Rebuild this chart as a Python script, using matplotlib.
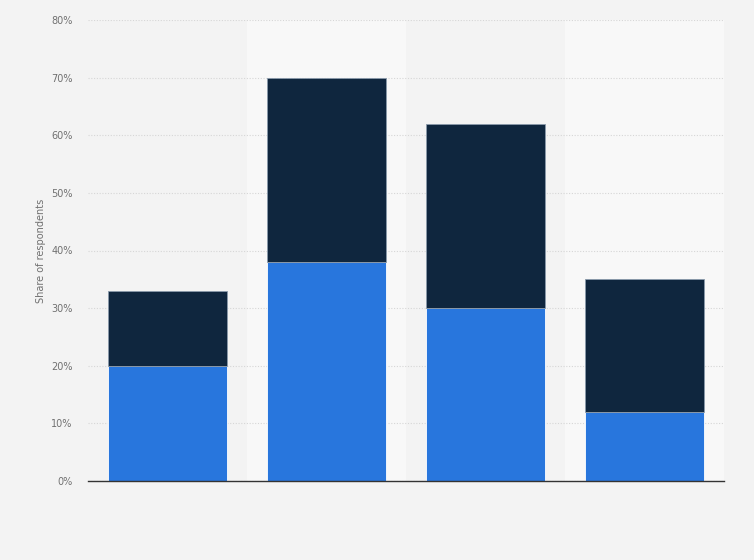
import matplotlib.pyplot as plt
import numpy as np

# values in percent
categories = ['A', 'B', 'C', 'D']
lowerShare = [20, 38, 30, 12]
upperShare = [13, 32, 32, 23]
yTicks = [0, 10, 20, 30, 40, 50, 60, 70, 80]

bgColor = '#f3f3f3'
bandColor = '#f8f8f8'
blue = '#2876dd'
navy = '#0f263e'

fig = plt.figure(figsize=(7.54, 5.6), dpi=100, facecolor=bgColor)
ax = fig.add_axes([88 / 754, 79 / 560, 636 / 754, 461 / 560])
ax.set_facecolor(bgColor)

x = np.arange(len(categories))
for i in x:
    if i % 2 == 1:
        ax.axvspan(i - 0.5, i + 0.5, color=bandColor, zorder=0, lw=0)

ax.set_yticks(yTicks)
ax.set_yticklabels([f'{t}%' for t in yTicks])
ax.yaxis.grid(True, color='#d6d6d6', linestyle=(0, (1, 1.5)), linewidth=0.8, zorder=1)
ax.set_axisbelow(True)

ax.bar(x, lowerShare, width=0.75, color=blue, edgecolor='white', linewidth=0.6, zorder=2)
ax.bar(x, upperShare, width=0.75, bottom=lowerShare, color=navy, edgecolor='#8a9aab', linewidth=0.6, zorder=2)

ax.set_xlim(-0.5, len(categories) - 0.5)
ax.set_ylim(0, 80)
ax.set_xticks([])

for side in ['top', 'right', 'left']:
    ax.spines[side].set_visible(False)
ax.spines['bottom'].set_color('#333333')
ax.spines['bottom'].set_linewidth(1.0)
ax.spines['bottom'].set_zorder(3)

ax.tick_params(axis='y', length=0, pad=11, labelsize=7, labelcolor='#707070')
ax.set_ylabel('Share of respondents', fontsize=7, color='#707070', labelpad=4)

plt.savefig('out.png', dpi=100, facecolor=bgColor)
